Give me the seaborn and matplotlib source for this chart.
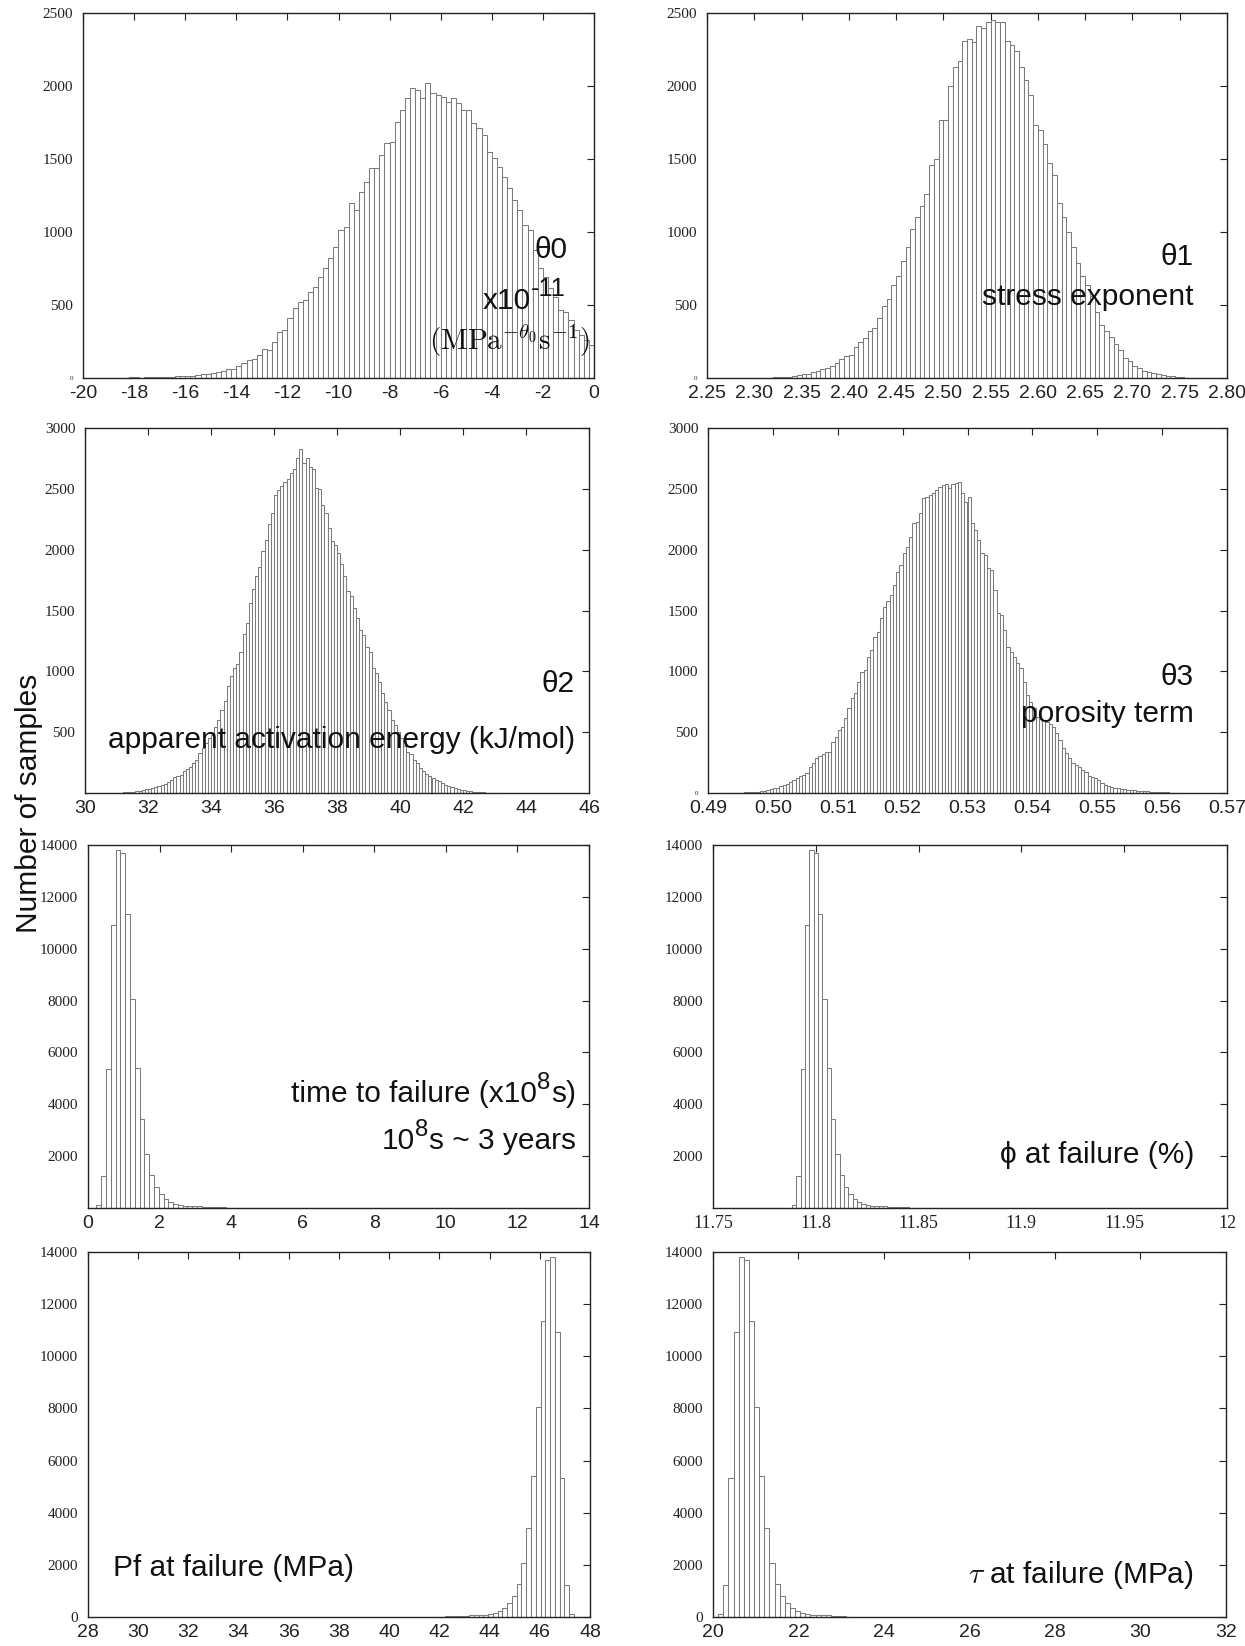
import numpy as np
import pandas as pd
import matplotlib
matplotlib.use("Agg")
import matplotlib.pyplot as plt
import seaborn as sns

# ---------------- data (histogram counts) ----------------
theta0_start, theta0_width = -18.6, 0.2
theta0_counts = [2, 3, 4, 5, 3, 6, 5, 8, 9, 8, 10, 12, 11, 16, 15, 20, 24, 30, 36, 40,
                 45, 60, 62, 80, 100, 125, 130, 160, 200, 190,
                 249, 317, 329, 409, 477, 523, 534, 591, 626, 694,
                 751, 820, 900, 1014, 1037, 1196, 1151, 1276, 1345, 1436,
                 1436, 1527, 1607, 1619, 1756, 1836, 1916, 1984, 1973, 1916,
                 2018, 1950, 1938, 1927, 1893, 1916, 1881, 1836, 1836, 1744,
                 1710, 1664, 1550, 1505, 1447, 1379, 1299, 1219, 1151, 1048,
                 1014, 877, 751, 694, 614, 557, 466, 454, 397, 329,
                 295, 260, 226]

theta1_start, theta1_width = 2.300, 0.005
theta1_counts = [1, 2, 2, 3, 4, 6, 8, 10, 14, 20, 25, 28, 38, 45, 60, 70, 82, 105, 130, 150,
                 160, 210, 250, 275,
                 320, 340, 410, 490, 540, 640, 700, 800, 900, 1020, 1100, 1180, 1260, 1460,
                 1500, 1765, 1765, 2000, 2130, 2170, 2310, 2320, 2300, 2410, 2400, 2440,
                 2450, 2440, 2440, 2310, 2280, 2240, 2130, 2040, 1940, 1730, 1700, 1600,
                 1470, 1390, 1200, 1100, 1000, 900, 790, 700, 640, 560, 450, 360, 320, 280,
                 235, 190, 140, 115, 80, 68, 48, 38, 32, 24, 20, 15, 11, 7, 5, 3, 2, 1]

theta2_start, theta2_width = 31.0, 0.1
theta2_counts = [3, 4, 5, 7, 9, 12, 15, 19, 24, 30,
                 36, 42, 46, 55, 62, 78, 92, 110, 135, 142,
                 150, 180, 196, 215, 250, 275, 330, 370, 410, 450,
                 480, 540, 600, 680, 760, 880, 960, 1030, 1060, 1160,
                 1310, 1400, 1560, 1680, 1780, 1860, 1990, 2080, 2210, 2300,
                 2450, 2490, 2520, 2560, 2580, 2630, 2660, 2750, 2830, 2710,
                 2750, 2680, 2660, 2510, 2500, 2370, 2300, 2180, 2070, 2040,
                 1970, 1880, 1780, 1660, 1620, 1520, 1440, 1340, 1300, 1200,
                 1160, 1030, 990, 910, 820, 750, 680, 600, 560, 500,
                 450, 390, 340, 320, 270, 245, 205, 180, 160, 140,
                 125, 110, 95, 80, 68, 58, 48, 40, 34, 28,
                 22, 18, 14, 11, 9, 7, 5, 4, 3, 2, 2, 1]

theta3_start, theta3_width = 0.4925, 0.0005
theta3_counts = [1, 2, 2, 3, 3, 4, 5, 6, 8, 10, 12, 14, 18, 22, 30, 40, 44, 55, 62, 70,
                 90, 110, 120, 140, 150, 165, 210, 250, 290, 300, 320,
                 340, 340, 422, 463, 518, 545, 614, 696, 778, 819, 915, 997, 1011, 1121,
                 1175, 1285, 1326, 1436, 1532, 1580, 1627, 1710, 1819, 1874, 1970, 2025,
                 2107, 2216, 2230, 2299, 2422, 2436, 2449, 2463, 2490, 2518, 2532, 2537,
                 2504, 2540, 2545, 2560, 2463, 2395, 2436, 2216, 2162, 2079, 1970, 1956,
                 1847, 1833, 1668, 1477, 1463, 1340, 1203, 1162, 1121, 1070, 1025, 915,
                 805, 745, 696, 627, 610, 600, 585, 565, 545, 490, 435, 367, 326, 285,
                 244, 230, 216, 189, 175, 140, 130, 120, 107, 79, 66, 58, 52, 44, 38,
                 32, 30, 27, 25, 23, 20, 18, 16, 14, 12, 10, 9, 8, 6, 5, 4, 3, 2, 2, 1]

ttf_start, ttf_width = 0.234, 0.134
ttf_counts = [116, 1235, 5350, 10918, 13810, 13680, 11340, 8063, 5414, 3420, 2070, 1273,
              823, 527, 347, 244, 154, 129, 95, 80, 70, 62, 55, 48, 40, 32, 24, 16]

phi_start, phi_width = 11.7885, 0.0021
phi_counts = [100, 1235, 5350, 10918, 13810, 13680, 11340, 8063, 5414, 3420, 2070, 1273,
              823, 527, 347, 244, 154, 129, 95, 80, 70, 62, 55, 48, 40, 32, 24, 16]

pf_start, pf_width = 41.85, 0.19
pf_counts = [10, 16, 24, 32, 40, 48, 55, 62, 70, 80, 95, 129, 154, 244, 347, 527,
             823, 1273, 2070, 3420, 5414, 8063, 11340, 13680, 13810, 10918, 5350, 1235, 100]

tau_start, tau_width = 20.12, 0.12
tau_counts = [100, 1235, 5350, 10918, 13810, 13680, 11340, 8063, 5414, 3420, 2070, 1273,
              823, 527, 347, 244, 154, 129, 95, 80, 70, 60, 48, 36, 26, 18]

# ---------------- style ----------------
sns.set_style("white")
plt.rcParams["font.family"] = ["Liberation Sans", "DejaVu Sans"]
plt.rcParams["mathtext.fontset"] = "cm"
SANS = ["Liberation Sans", "DejaVu Sans"]
SERIF = ["Liberation Serif", "DejaVu Serif"]
EDGE = "#7c7c7c"
TXT = "#111111"
ANN = 21.5

W, H = 1245, 1646
fig = plt.figure(figsize=(W / 100, H / 100), dpi=100)
fig.patch.set_facecolor("white")


def make_ax(x0, x1, y0, y1):
    return fig.add_axes([x0 / W, 1 - y1 / H, (x1 - x0) / W, (y1 - y0) / H])


def hist(ax, start, width, counts):
    counts = np.asarray(counts, dtype=float)
    n = len(counts)
    centers = start + width * (np.arange(n) + 0.5)
    df = pd.DataFrame({"value": centers, "count": counts})
    sns.histplot(data=df, x="value", weights="count", bins=n,
                 binrange=(start, start + n * width), ax=ax, stat="count",
                 color="white", edgecolor=EDGE, linewidth=0.75, alpha=1.0)
    ax.set_xlabel("")
    ax.set_ylabel("")


def style(ax, xlim, xticks, xlabels, ylim, yticks, ylabels, xserif=False, tiny_zero=False):
    ax.set_xlim(*xlim)
    ax.set_ylim(*ylim)
    ax.set_xticks(xticks)
    ax.set_xticklabels(xlabels, fontsize=13 if xserif else 14, family=SERIF if xserif else SANS)
    ax.set_yticks(yticks)
    ax.set_yticklabels(ylabels, fontsize=11, family=SERIF)
    if tiny_zero:
        ax.get_yticklabels()[0].set_fontsize(5)
    ax.tick_params(direction="in", top=True, right=True, length=5, width=0.8,
                   colors="#222222")
    ax.tick_params(axis="x", pad=5)
    ax.tick_params(axis="y", pad=7)
    for s in ax.spines.values():
        s.set_visible(True)
        s.set_color("#222222")
        s.set_linewidth(1.0)


def ftext(x, y, s, ha="right", size=ANN, family=SANS, **kw):
    fig.text(x / W, 1 - y / H, s, ha=ha, va="center", fontsize=size, family=family,
             color=TXT, **kw)


renderer = fig.canvas.get_renderer()


def rich(x, y, pieces, ha="right", size=ANN, sup_scale=0.8):
    """pieces: list of (string, is_superscript); y is the visual centre (px from top)."""
    size_px = size * 100 / 72
    objs = []
    total = 0.0
    for s, sup in pieces:
        fs = size * sup_scale if sup else size
        t = fig.text(0, 0, s, fontsize=fs, family=SANS, ha="left", va="baseline", color=TXT)
        w = t.get_window_extent(renderer).width
        objs.append((t, sup, w))
        total += w
    xc = x - total if ha == "right" else x
    base = y + 0.36 * size_px
    for t, sup, w in objs:
        yy = base - (0.42 * size_px if sup else 0)
        t.set_position((xc / W, 1 - yy / H))
        xc += w + (1 if sup else 0)


# ---- panel 1: theta0
ax = make_ax(83, 594, 13, 378)
hist(ax, theta0_start, theta0_width, theta0_counts)
xt = list(range(-20, 1, 2))
style(ax, (-20, 0), xt, [str(v) for v in xt], (0, 2500), [0, 500, 1000, 1500, 2000, 2500],
      ["0", "500", "1000", "1500", "2000", "2500"], tiny_zero=True)

# ---- panel 2: theta1
ax = make_ax(707, 1227, 13, 378)
hist(ax, theta1_start, theta1_width, theta1_counts)
xt = [2.25 + 0.05 * i for i in range(12)]
style(ax, (2.25, 2.80), xt, ["%.2f" % v for v in xt], (0, 2500),
      [0, 500, 1000, 1500, 2000, 2500], ["0", "500", "1000", "1500", "2000", "2500"],
      tiny_zero=True)

# ---- panel 3: theta2
ax = make_ax(85, 589, 428, 793)
hist(ax, theta2_start, theta2_width, theta2_counts)
xt = list(range(30, 47, 2))
style(ax, (30, 46), xt, [str(v) for v in xt], (0, 3000),
      [500, 1000, 1500, 2000, 2500, 3000], ["500", "1000", "1500", "2000", "2500", "3000"])

# ---- panel 4: theta3
ax = make_ax(708, 1227, 428, 793)
hist(ax, theta3_start, theta3_width, theta3_counts)
xt = [0.49 + 0.01 * i for i in range(9)]
style(ax, (0.49, 0.57), xt, ["%.2f" % v for v in xt], (0, 3000),
      [0, 500, 1000, 1500, 2000, 2500, 3000],
      ["0", "500", "1000", "1500", "2000", "2500", "3000"], tiny_zero=True)

# ---- panel 5: time to failure
ax = make_ax(88, 589, 845, 1208)
hist(ax, ttf_start, ttf_width, ttf_counts)
xt = list(range(0, 15, 2))
yt = list(range(2000, 14001, 2000))
style(ax, (0, 14), xt, [str(v) for v in xt], (0, 14000), yt, [str(v) for v in yt])

# ---- panel 6: phi at failure
ax = make_ax(713, 1227, 845, 1208)
hist(ax, phi_start, phi_width, phi_counts)
xt = [11.75, 11.8, 11.85, 11.9, 11.95, 12]
style(ax, (11.75, 12.0), xt, ["11.75", "11.8", "11.85", "11.9", "11.95", "12"],
      (0, 14000), yt, [str(v) for v in yt], xserif=True)

# ---- panel 7: Pf at failure
ax = make_ax(88, 590, 1252, 1617)
hist(ax, pf_start, pf_width, pf_counts)
xt = list(range(28, 49, 2))
yt0 = list(range(0, 14001, 2000))
style(ax, (28, 48), xt, [str(v) for v in xt], (0, 14000), yt0, [str(v) for v in yt0])

# ---- panel 8: tau at failure
ax = make_ax(713, 1226, 1252, 1617)
hist(ax, tau_start, tau_width, tau_counts)
xt = list(range(20, 33, 2))
style(ax, (20, 32), xt, [str(v) for v in xt], (0, 14000), yt0, [str(v) for v in yt0])

# ---------------- annotations ----------------
ftext(567, 250, "θ0")
rich(566, 298, [("x10", False), ("-11", True)], sup_scale=0.85)
ftext(590, 341, r"$(\mathrm{MPa}^{-\theta_0}\mathrm{s}^{-1})$", size=21)

ftext(1194, 257, "θ1")
ftext(1194, 297, "stress exponent")

ftext(575, 684, "θ2")
ftext(575, 740, "apparent activation energy (kJ/mol)")

ftext(1194, 677, "θ3")
ftext(1194, 714, "porosity term")

rich(575, 1091, [("time to failure (x10", False), ("8", True), ("s)", False)])
rich(575, 1138, [("10", False), ("8", True), ("s ~ 3 years", False)])

ftext(1194, 1155, "ϕ at failure (%)")

ftext(113, 1568, "Pf at failure (MPa)", ha="left")

ftext(1194, 1575, r"$\tau$ at failure (MPa)")

fig.text(29 / W, 1 - 803 / H, "Number of samples", rotation=90, ha="center", va="center",
         fontsize=21.5, family=SANS, color=TXT)

fig.savefig("out.png", dpi=100, facecolor="white")
